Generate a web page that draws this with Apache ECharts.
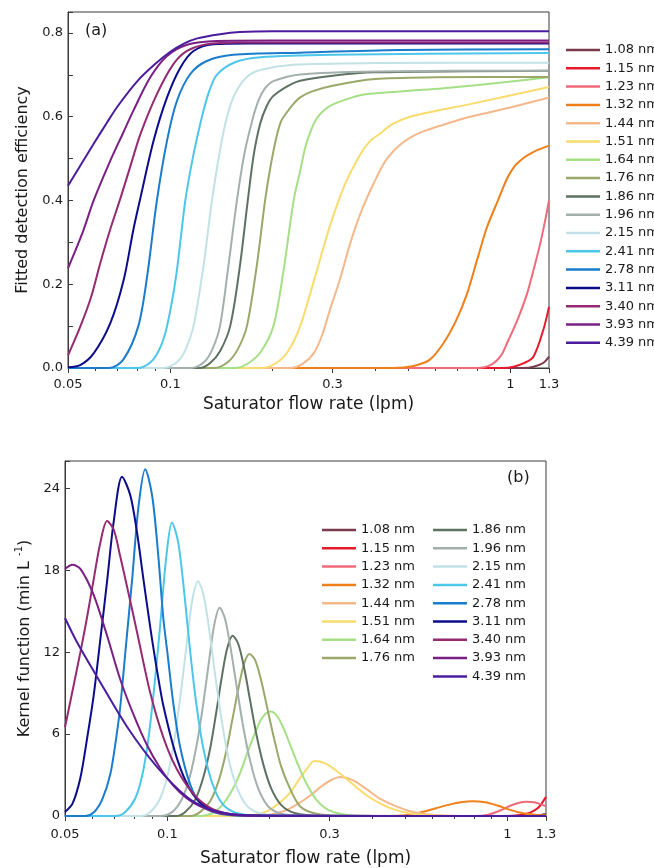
<!DOCTYPE html>
<html>
<head>
<meta charset="utf-8">
<script src="https://cdn.jsdelivr.net/npm/echarts@6/dist/echarts.min.js"></script>
<style>
  html, body { margin: 0; padding: 0; background: #ffffff; }
  #chart { width: 654px; height: 868px; }
</style>
</head>
<body>
<div id="chart"></div>
<script>
// Particle sizes and their line colours
const sizes = ['1.08 nm', '1.15 nm', '1.23 nm', '1.32 nm', '1.44 nm', '1.51 nm', '1.64 nm', '1.76 nm',
  '1.86 nm', '1.96 nm', '2.15 nm', '2.41 nm', '2.78 nm', '3.11 nm', '3.40 nm', '3.93 nm', '4.39 nm'];
const colors = ['#7a3b4c', '#e8192c', '#f06a7a', '#f0801a', '#f5b88a', '#f8dc6c', '#a6e086', '#9aa86a',
  '#5e7262', '#a4b0ac', '#c2e2e8', '#4cc6ea', '#1a7ccc', '#0c0c8a', '#952a72', '#7a1f84', '#4b1d9e'];

// Axis ticks (saturator flow rate, lpm)
const xMajorTicks = [0.05, 0.1, 0.3, 1, 1.3];
const xMinorTicks = [0.06, 0.07, 0.08, 0.09, 0.2, 0.4, 0.5, 0.6, 0.7, 0.8, 0.9];

// (a) fitted detection efficiency: [flow rate, efficiency]
const eff108 = [[0.05,0],[1.1,0],[1.17,0.003],[1.25,0.012],[1.3,0.027]];
const eff115 = [[0.05,0],[0.95,0],[1.022,0.003],[1.1,0.012],[1.17,0.027],[1.25,0.09],[1.3,0.146]];
const eff123 = [[0.05,0],[0.8,0],[0.88,0.008],[0.94,0.03],[0.978,0.059],[1.05,0.115],[1.12,0.177],[1.18,0.245],[1.225,0.297],[1.265,0.35],[1.3,0.4]];
const eff132 = [[0.05,0],[0.45,0],[0.52,0.005],[0.58,0.02],[0.636,0.059],[0.69,0.11],[0.746,0.177],[0.8,0.26],[0.854,0.336],[0.92,0.4],[0.978,0.452],[1.03,0.482],[1.08,0.498],[1.12,0.507],[1.2,0.52],[1.3,0.531]];
const eff144 = [[0.05,0],[0.225,0],[0.245,0.01],[0.264,0.035],[0.28,0.08],[0.295,0.14],[0.315,0.21],[0.338,0.297],[0.365,0.375],[0.396,0.44],[0.43,0.495],[0.474,0.533],[0.52,0.555],[0.569,0.568],[0.65,0.583],[0.746,0.598],[1.0,0.622],[1.3,0.646]];
const eff151 = [[0.05,0],[0.185,0],[0.205,0.012],[0.222,0.04],[0.241,0.1],[0.267,0.22],[0.295,0.34],[0.327,0.44],[0.362,0.51],[0.385,0.54],[0.414,0.56],[0.45,0.582],[0.508,0.6],[0.762,0.63],[1.3,0.671]];
const eff164 = [[0.05,0],[0.155,0],[0.17,0.012],[0.185,0.04],[0.201,0.1],[0.215,0.23],[0.2305,0.4],[0.241,0.471],[0.25,0.53],[0.26,0.57],[0.27,0.597],[0.285,0.617],[0.302,0.63],[0.34,0.645],[0.379,0.654],[0.595,0.666],[0.9,0.68],[1.3,0.694]];
const eff176 = [[0.05,0],[0.135,0],[0.148,0.015],[0.158,0.045],[0.168,0.1],[0.18,0.25],[0.19,0.4],[0.197,0.48],[0.205,0.55],[0.212,0.59],[0.22,0.61],[0.23,0.63],[0.241,0.646],[0.26,0.66],[0.3,0.674],[0.4,0.69],[0.6,0.694],[1.3,0.695]];
const eff186 = [[0.05,0],[0.122,0],[0.131,0.012],[0.14,0.04],[0.15,0.1],[0.16,0.24],[0.169,0.4],[0.176,0.51],[0.184,0.585],[0.192,0.625],[0.2,0.648],[0.22,0.672],[0.241,0.686],[0.3,0.698],[0.4,0.706],[1.3,0.71]];
const eff196 = [[0.05,0],[0.115,0],[0.126,0.015],[0.133,0.045],[0.14,0.1],[0.148,0.24],[0.157,0.4],[0.165,0.51],[0.174,0.59],[0.182,0.64],[0.19,0.668],[0.201,0.685],[0.241,0.701],[0.4,0.708],[1.3,0.71]];
const eff215 = [[0.05,0],[0.095,0],[0.105,0.015],[0.111,0.045],[0.117,0.1],[0.125,0.24],[0.1326,0.4],[0.14,0.52],[0.1468,0.6],[0.155,0.655],[0.168,0.695],[0.185,0.712],[0.23,0.724],[0.4,0.728],[1.3,0.729]];
const eff241 = [[0.05,0],[0.08,0],[0.0878,0.015],[0.0935,0.05],[0.0978,0.1],[0.104,0.22],[0.1107,0.4],[0.117,0.51],[0.1239,0.6],[0.13,0.66],[0.137,0.7],[0.155,0.73],[0.184,0.742],[0.3,0.748],[1.3,0.752]];
const eff278 = [[0.05,0],[0.066,0],[0.0727,0.02],[0.0805,0.1],[0.0855,0.22],[0.0913,0.4],[0.0978,0.543],[0.1046,0.638],[0.1145,0.702],[0.128,0.733],[0.153,0.748],[0.241,0.753],[0.474,0.759],[1.3,0.761]];
const eff311 = [[0.05,0.002],[0.0543,0.007],[0.0595,0.035],[0.0666,0.107],[0.0729,0.21],[0.0778,0.329],[0.0816,0.405],[0.0893,0.543],[0.0978,0.646],[0.107,0.717],[0.117,0.757],[0.134,0.773],[0.17,0.775],[1.3,0.775]];
const eff340 = [[0.05,0.03],[0.0543,0.098],[0.0585,0.17],[0.0622,0.25],[0.0665,0.33],[0.0713,0.405],[0.0765,0.485],[0.0816,0.558],[0.0913,0.654],[0.102,0.725],[0.112,0.757],[0.128,0.773],[0.16,0.777],[1.3,0.777]];
const eff393 = [[0.05,0.238],[0.055,0.32],[0.0595,0.40],[0.0666,0.495],[0.0725,0.56],[0.0778,0.614],[0.0873,0.694],[0.0978,0.745],[0.112,0.772],[0.137,0.781],[0.2,0.782],[1.3,0.782]];
const eff439 = [[0.05,0.435],[0.055,0.49],[0.06,0.54],[0.065,0.585],[0.07,0.625],[0.08,0.685],[0.09,0.725],[0.1,0.755],[0.11,0.775],[0.12,0.787],[0.14,0.797],[0.16,0.802],[0.2,0.804],[1.3,0.804]];

// (b) kernel function: [flow rate, min L^-1]
const ker108 = [[0.05,0],[1.15,0],[1.22,0.03],[1.3,0.15]];
const ker115 = [[0.05,0],[0.986,0],[1.092,0.08],[1.168,0.25],[1.233,0.6],[1.3,1.4]];
const ker123 = [[0.05,0],[0.805,0],[0.8785,0.1],[0.9533,0.4],[1.02,0.75],[1.077,0.95],[1.137,1.05],[1.2,1.0],[1.258,0.85],[1.3,0.7]];
const ker132 = [[0.05,0],[0.4527,0],[0.501,0.05],[0.5545,0.25],[0.614,0.55],[0.6796,0.85],[0.737,1.02],[0.789,1.08],[0.8616,1.0],[0.9407,0.75],[1.02,0.45],[1.106,0.22],[1.208,0.1],[1.3,0.06]];
const ker144 = [[0.05,0],[0.1814,0],[0.2008,0.1],[0.2223,0.4],[0.2429,0.9],[0.2633,1.5],[0.2818,2.1],[0.3015,2.6],[0.3226,2.85],[0.3499,2.65],[0.3865,1.95],[0.4231,1.25],[0.462,0.8],[0.518,0.35],[0.5736,0.15],[0.657,0.04],[0.8327,0],[1.3,0]];
const ker151 = [[0.05,0],[0.164,0],[0.1814,0.1],[0.1982,0.4],[0.2149,1.0],[0.2315,1.8],[0.2429,2.6],[0.2564,3.4],[0.2711,4.02],[0.2915,3.85],[0.3226,3.1],[0.3523,2.3],[0.3865,1.5],[0.4231,0.9],[0.462,0.5],[0.518,0.18],[0.5935,0.04],[0.7276,0],[1.3,0]];
const ker164 = [[0.05,0],[0.125,0],[0.1356,0.2],[0.1451,0.8],[0.1552,1.9],[0.164,3.2],[0.173,4.8],[0.1814,6.1],[0.1902,7.2],[0.2008,7.65],[0.2106,7.3],[0.2208,6.3],[0.2315,5.0],[0.2429,3.7],[0.2564,2.4],[0.2743,1.2],[0.2974,0.45],[0.3337,0.1],[0.3953,0.01],[1.3,0]];
const ker176 = [[0.05,0],[0.1168,0],[0.125,0.3],[0.1338,1.1],[0.1412,2.5],[0.148,4.4],[0.1552,7.0],[0.1617,9.3],[0.1684,11.2],[0.1746,11.87],[0.1814,11.4],[0.1889,9.9],[0.1968,7.9],[0.2064,5.6],[0.2164,3.6],[0.2315,1.8],[0.246,0.7],[0.2724,0.18],[0.3226,0.02],[1.3,0]];
const ker186 = [[0.05,0],[0.1055,0],[0.1129,0.3],[0.1208,1.2],[0.1275,2.8],[0.1338,5.0],[0.1393,7.6],[0.1451,10.4],[0.1501,12.3],[0.1556,13.2],[0.1617,12.6],[0.1684,10.8],[0.1754,8.4],[0.1827,6.0],[0.1915,3.8],[0.2022,2.0],[0.2164,0.8],[0.2379,0.2],[0.2818,0.02],[1.3,0]];
const ker196 = [[0.05,0],[0.0953,0],[0.1034,0.3],[0.1107,1.3],[0.1168,3.0],[0.1224,5.4],[0.1275,8.2],[0.1329,11.5],[0.1374,14.0],[0.1425,15.25],[0.148,14.4],[0.1542,12.0],[0.1606,9.2],[0.1673,6.5],[0.1754,4.0],[0.1852,2.0],[0.1981,0.7],[0.2178,0.15],[0.2545,0.02],[1.3,0]];
const ker215 = [[0.05,0],[0.0832,0],[0.0891,0.3],[0.0953,1.3],[0.1007,3.2],[0.1055,6.0],[0.1099,9.3],[0.1145,13.0],[0.1184,15.8],[0.123,17.2],[0.1275,16.3],[0.1329,13.6],[0.1383,10.3],[0.1441,7.2],[0.1511,4.3],[0.1595,2.2],[0.1707,0.8],[0.1877,0.2],[0.2223,0.02],[1.3,0]];
const ker241 = [[0.05,0],[0.0703,0],[0.0752,0.3],[0.0805,1.3],[0.0844,3.0],[0.0879,5.6],[0.0915,9.4],[0.0953,14.0],[0.0993,19.0],[0.1032,21.5],[0.1077,20.0],[0.1122,16.3],[0.1168,12.0],[0.1217,8.2],[0.1275,5.0],[0.1356,2.4],[0.1451,0.9],[0.1585,0.25],[0.1877,0.02],[1.3,0]];
const ker278 = [[0.05,0],[0.0574,0],[0.0607,0.25],[0.0643,1.2],[0.068,3.1],[0.0708,5.8],[0.0727,8.0],[0.0757,12.7],[0.0789,17.5],[0.0822,22.6],[0.0861,25.4],[0.0903,23.4],[0.0941,19.0],[0.0973,14.5],[0.1,12.0],[0.1042,8.2],[0.1092,5.0],[0.1168,2.3],[0.125,0.9],[0.1383,0.25],[0.164,0.02],[1.3,0]];
const ker311 = [[0.05,0.3],[0.0526,0.9],[0.0555,2.8],[0.058,5.6],[0.0607,8.8],[0.0635,12.9],[0.0665,17.2],[0.0695,21.5],[0.0736,24.85],[0.0778,23.5],[0.0814,20.8],[0.0851,17.3],[0.0891,13.8],[0.0932,10.7],[0.0975,8.0],[0.1068,4.2],[0.1168,1.9],[0.1278,0.8],[0.143,0.25],[0.175,0.03],[1.3,0]];
const ker340 = [[0.05,6.5],[0.0555,12.0],[0.058,14.5],[0.0607,17.3],[0.0635,20.0],[0.0665,21.6],[0.0695,21.0],[0.0727,19.0],[0.0769,16.3],[0.0814,13.5],[0.0891,9.0],[0.0975,5.7],[0.1068,3.4],[0.1195,1.6],[0.1338,0.6],[0.153,0.15],[0.1877,0.02],[1.3,0]];
const ker393 = [[0.05,18.1],[0.0526,18.4],[0.0555,18.1],[0.0607,16.2],[0.0665,13.2],[0.0727,10.0],[0.0796,7.4],[0.0871,5.2],[0.0953,3.5],[0.1043,2.2],[0.114,1.3],[0.125,0.7],[0.143,0.2],[0.175,0.02],[1.3,0]];
const ker439 = [[0.05,14.5],[0.0543,12.7],[0.0621,10.2],[0.0761,6.54],[0.0932,3.6],[0.114,1.4],[0.13,0.6],[0.15,0.18],[0.18,0.03],[0.25,0],[1.3,0]];

const efficiency = [eff108, eff115, eff123, eff132, eff144, eff151, eff164, eff176, eff186,
  eff196, eff215, eff241, eff278, eff311, eff340, eff393, eff439];
const kernels = [ker108, ker115, ker123, ker132, ker144, ker151, ker164, ker176, ker186,
  ker196, ker215, ker241, ker278, ker311, ker340, ker393, ker439];

const FONT = 'DejaVu Sans';
const TEXT = '#1a1a1a';
const AXIS = '#3a3a3a';

function fmtFlow(v) { return String(+Number(v).toPrecision(3)); }

function flowAxis(gridIndex, nameGap, labelMargin) {
  return [
    {
      type: 'log', logBase: 10, gridIndex, position: 'bottom', min: 0.05, max: 1.3,
      axisLine: { show: true, lineStyle: { color: AXIS, width: 1 } },
      axisTick: { show: true, inside: false, length: 5, customValues: xMajorTicks, lineStyle: { color: AXIS } },
      axisLabel: { show: true, customValues: xMajorTicks, formatter: fmtFlow, margin: labelMargin,
        color: TEXT, fontSize: 13, fontFamily: FONT },
      splitLine: { show: false }, minorTick: { show: false },
      name: 'Saturator flow rate (lpm)', nameLocation: 'middle', nameGap,
      nameTextStyle: { color: TEXT, fontSize: 17, fontFamily: FONT }
    },
    {
      type: 'log', logBase: 10, gridIndex, position: 'bottom', min: 0.05, max: 1.3,
      axisLine: { show: false },
      axisTick: { show: true, inside: false, length: 3, customValues: xMinorTicks, lineStyle: { color: AXIS } },
      axisLabel: { show: false },
      splitLine: { show: false }
    }
  ];
}

function buildSeries(list, xi, yi) {
  return list.map((data, i) => ({
    type: 'line', name: sizes[i], data, xAxisIndex: xi, yAxisIndex: yi,
    symbol: 'none', smooth: 0.3, clip: true,
    lineStyle: { color: colors[i], width: 2 }, itemStyle: { color: colors[i] },
    emphasis: { disabled: true }, animation: false
  }));
}

const legendText = { color: TEXT, fontSize: 13, fontFamily: FONT, lineHeight: 14 };
function legend(left, top, names) {
  return { orient: 'vertical', left, top, padding: 0, icon: 'rect', itemWidth: 34, itemHeight: 2.5,
    itemGap: 4.3, selectedMode: false, textStyle: legendText, data: names };
}

const chart = echarts.init(document.getElementById('chart'), null, { renderer: 'canvas' });
chart.setOption({
  backgroundColor: '#ffffff',
  animation: false,
  grid: [
    { left: 68, top: 12, width: 481, height: 356, show: true, borderColor: AXIS, borderWidth: 1, containLabel: false },
    { left: 65, top: 461, width: 481, height: 355, show: true, borderColor: AXIS, borderWidth: 1, containLabel: false }
  ],
  xAxis: [...flowAxis(0, 28, 10), ...flowAxis(1, 34, 12)],
  yAxis: [
    {
      type: 'value', gridIndex: 0, min: 0, max: 0.85, interval: 0.1,
      axisLine: { show: true, lineStyle: { color: AXIS } },
      axisTick: { show: true, inside: true, length: 5, lineStyle: { color: AXIS } },
      axisLabel: { margin: 5, color: TEXT, fontSize: 13, fontFamily: FONT,
        formatter: v => (Math.round(v * 10) % 2 === 0 ? v.toFixed(1) : '') },
      splitLine: { show: false },
      name: 'Fitted detection efficiency', nameLocation: 'middle', nameGap: 37,
      nameTextStyle: { color: TEXT, fontSize: 16, fontFamily: FONT }
    },
    {
      type: 'value', gridIndex: 1, min: 0, max: 26, interval: 6,
      axisLine: { show: true, lineStyle: { color: AXIS } },
      axisTick: { show: true, inside: true, length: 5, lineStyle: { color: AXIS } },
      axisLabel: { margin: 5, color: TEXT, fontSize: 13, fontFamily: FONT,
        formatter: v => (v % 6 === 0 ? String(v) : '') },
      splitLine: { show: false },
      name: '{t|Kernel function (min L }{s|-1}{t|)}', nameLocation: 'middle', nameGap: 28,
      nameTextStyle: {
        color: TEXT, fontSize: 16, fontFamily: FONT,
        rich: {
          t: { color: TEXT, fontSize: 16, fontFamily: FONT, lineHeight: 20 },
          s: { color: TEXT, fontSize: 10, fontFamily: FONT, lineHeight: 20, verticalAlign: 'top' }
        }
      }
    }
  ],
  legend: [
    legend(566, 43, sizes),
    legend(322, 523, sizes.slice(0, 8)),
    legend(433, 523, sizes.slice(8))
  ],
  graphic: [
    { type: 'text', left: 85, top: 23, style: { text: '(a)', font: '16px "DejaVu Sans"', fill: TEXT } },
    { type: 'text', left: 507, top: 470, style: { text: '(b)', font: '16px "DejaVu Sans"', fill: TEXT } }
  ],
  series: [...buildSeries(efficiency, 0, 0), ...buildSeries(kernels, 2, 1)]
});
</script>
</body>
</html>
